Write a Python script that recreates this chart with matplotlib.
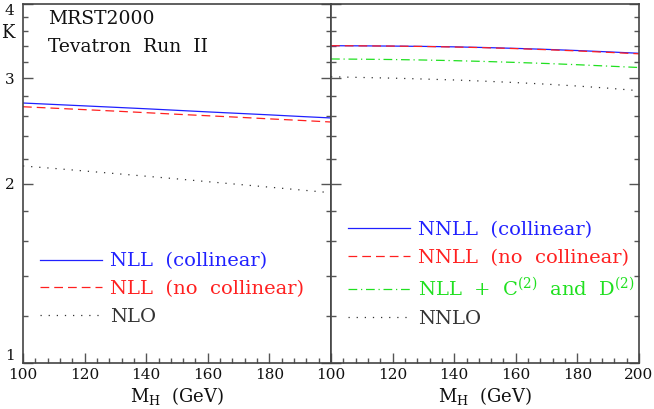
import matplotlib
matplotlib.use("Agg")
import matplotlib.pyplot as plt
from matplotlib.ticker import MultipleLocator, FixedLocator, NullFormatter
import numpy as np

# ---------------- data ----------------
mh = [100, 110, 120, 130, 140, 150, 160, 170, 180, 190, 200]

# left panel (NLL)
nll_coll   = [2.729, 2.714, 2.699, 2.684, 2.669, 2.653, 2.637, 2.622, 2.607, 2.591, 2.576]
nll_nocoll = [2.690, 2.675, 2.660, 2.645, 2.629, 2.613, 2.598, 2.583, 2.567, 2.552, 2.536]
nlo        = [2.140, 2.120, 2.099, 2.078, 2.057, 2.036, 2.014, 1.993, 1.972, 1.951, 1.930]

# right panel (NNLL)
nnll_coll   = [3.405, 3.403, 3.400, 3.396, 3.390, 3.381, 3.370, 3.357, 3.342, 3.325, 3.307]
nnll_nocoll = [3.405, 3.403, 3.400, 3.395, 3.388, 3.379, 3.367, 3.353, 3.337, 3.319, 3.300]
nll_c2d2    = [3.235, 3.232, 3.228, 3.222, 3.214, 3.204, 3.192, 3.179, 3.164, 3.147, 3.130]
nnlo        = [3.020, 3.012, 3.004, 2.994, 2.983, 2.969, 2.953, 2.935, 2.914, 2.890, 2.862]

xticks = [100, 120, 140, 160, 180, 200]
xticklabels_left = ["100", "120", "140", "160", "180", ""]
xticklabels_right = ["100", "120", "140", "160", "180", "200"]
yticks = [1, 2, 3, 4]
yticklabels = ["1", "2", "3", "4"]

left_labels = ["NLL  (collinear)", "NLL  (no  collinear)", "NLO"]
right_labels = ["NNLL  (collinear)", "NNLL  (no  collinear)",
                r"NLL  +  C$^{\mathrm{(2)}}$  and  D$^{\mathrm{(2)}}$", "NNLO"]

BLUE = "#2020ff"
RED = "#ff2020"
GREEN = "#20e020"
BLACK = "#333333"

plt.rcParams['font.family'] = ['DejaVu Serif']
plt.rcParams['mathtext.fontset'] = 'dejavuserif'

W, H = 654, 409
fig = plt.figure(figsize=(W / 100, H / 100), dpi=100)
x0, xm, x1 = 23, 331, 639
ytop, ybot = 4, 363
axL = fig.add_axes([x0 / W, (H - ybot) / H, (xm - x0) / W, (ybot - ytop) / H])
axR = fig.add_axes([xm / W, (H - ybot) / H, (x1 - xm) / W, (ybot - ytop) / H])

for ax in (axL, axR):
    ax.set_yscale('log')
    ax.set_ylim(1, 4)
    ax.set_xlim(100, 200)
    ax.yaxis.set_major_locator(FixedLocator(yticks))
    ax.yaxis.set_minor_locator(FixedLocator([v for v in np.arange(1.2, 4.0, 0.2) if abs(v - round(v)) > 1e-6]))
    ax.yaxis.set_minor_formatter(NullFormatter())
    ax.xaxis.set_major_locator(FixedLocator(xticks))
    ax.xaxis.set_minor_locator(MultipleLocator(4))
    ax.tick_params(which='both', direction='in', top=False, right=True, colors='#555555',
                   labelcolor='#111111', labelsize=11, width=1)
    ax.tick_params(which='major', length=7)
    ax.tick_params(which='minor', length=3.5)
    for s in ax.spines.values():
        s.set_color('#444444')
        s.set_linewidth(1.2)
    ax.set_xlabel(r"M$_{\mathrm{H}}$  (GeV)", fontsize=13, labelpad=2, color='#111111')

axL.set_xticklabels(xticklabels_left)
axR.set_xticklabels(xticklabels_right)
axL.set_yticks(yticks)
axL.set_yticklabels(yticklabels)
axR.set_yticklabels([])
axL.tick_params(axis='y', which='major', pad=6)
ylabs = axL.get_yticklabels()
ylabs[0].set_va('bottom')
ylabs[-1].set_va('top')

lw = 0.9
axL.plot(mh, nll_coll, color=BLUE, lw=lw, ls='-', label=left_labels[0])
axL.plot(mh, nll_nocoll, color=RED, lw=lw, ls=(0, (7, 4)), label=left_labels[1])
axL.plot(mh, nlo, color=BLACK, lw=lw, ls=(0, (1, 5.5)), label=left_labels[2])

axR.plot(mh, nnll_coll, color=BLUE, lw=lw, ls='-', label=right_labels[0])
axR.plot(mh, nnll_nocoll, color=RED, lw=lw, ls=(0, (7, 4)), label=right_labels[1])
axR.plot(mh, nll_c2d2, color=GREEN, lw=lw, ls=(0, (7, 3, 1, 3)), label=right_labels[2])
axR.plot(mh, nnlo, color=BLACK, lw=lw, ls=(0, (1, 5.5)), label=right_labels[3])

legL = axL.legend(loc='upper left', bbox_to_anchor=(0.03, 0.33), frameon=False,
                  fontsize=14, handlelength=3.2, handletextpad=0.4, labelspacing=0.5,
                  borderaxespad=0)
for t, c in zip(legL.get_texts(), [BLUE, RED, BLACK]):
    t.set_color(c)
legR = axR.legend(loc='upper left', bbox_to_anchor=(0.03, 0.417), frameon=False,
                  fontsize=14, handlelength=3.2, handletextpad=0.4, labelspacing=0.5,
                  borderaxespad=0)
for t, c in zip(legR.get_texts(), [BLUE, RED, GREEN, BLACK]):
    t.set_color(c)

axL.text(0.08, 0.958, "MRST2000", transform=axL.transAxes, fontsize=13.5, va='center', color='#111111')
axL.text(0.08, 0.880, "Tevatron  Run  II", transform=axL.transAxes, fontsize=13.5, va='center', color='#111111')
fig.text(8 / W, 1 - 33 / H, "K", fontsize=13, ha='center', va='center', color='#111111')

fig.savefig("out.png", dpi=100)
